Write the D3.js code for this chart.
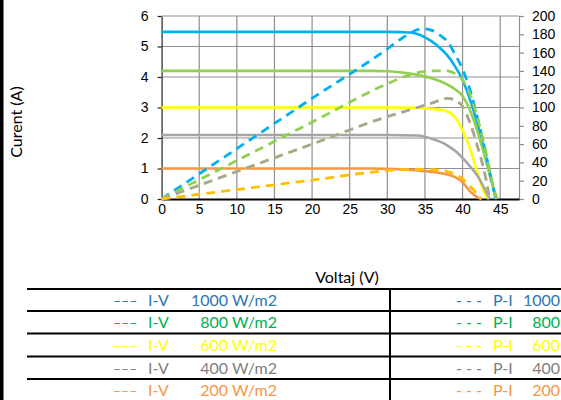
<!DOCTYPE html>
<html>
<head>
<meta charset="utf-8">
<script src="https://cdn.jsdelivr.net/npm/d3@7"></script>
<style>
  body { margin: 0; background: #fff; }
  svg { display: block; }
  .tick text { font-family: "Liberation Sans", Arial, sans-serif; font-size: 14px; fill: #000; }
  .lbl { font-family: Lato, sans-serif; }
</style>
</head>
<body>
<svg width="561" height="400"></svg>
<script>
// axis ticks
var voltTicks = [0, 5, 10, 15, 20, 25, 30, 35, 40, 45];
var currentTicks = [0, 1, 2, 3, 4, 5, 6];
var powerTicks = [0, 20, 40, 60, 80, 100, 120, 140, 160, 180, 200];

// I-V curves (voltage, current)
var vI1000 = [0, 10, 20, 30, 32, 33, 34, 35, 36, 37, 38, 39, 40, 41, 42, 43, 44, 44.4];
var i1000  = [5.48, 5.48, 5.48, 5.48, 5.47, 5.46, 5.41, 5.3, 5.15, 4.95, 4.7, 4.35, 3.9, 3.25, 2.45, 1.5, 0.45, 0];
var vI800 = [0, 10, 20, 28, 30, 32, 34, 36, 38, 39, 40, 41, 42, 43, 44, 44.6];
var i800  = [4.2, 4.2, 4.2, 4.2, 4.19, 4.15, 4.07, 3.95, 3.75, 3.6, 3.38, 2.9, 2.2, 1.35, 0.45, 0];
var vI600 = [0, 10, 20, 30, 33, 35, 37, 38, 39, 40, 41, 42, 43, 43.5];
var i600  = [3.0, 3.0, 3.0, 3.0, 2.99, 2.97, 2.93, 2.87, 2.68, 2.25, 1.65, 0.85, 0.15, 0];
var vI400 = [0, 10, 20, 30, 34, 35, 36, 37, 38, 39, 40, 41, 42, 43, 43.6];
var i400  = [2.1, 2.1, 2.1, 2.1, 2.08, 2.04, 1.97, 1.88, 1.75, 1.58, 1.35, 1.07, 0.75, 0.3, 0];
var vI200 = [0, 10, 20, 28, 30, 32, 34, 36, 38, 39, 40, 41, 42, 42.5];
var i200  = [1.0, 1.0, 1.0, 1.0, 0.99, 0.97, 0.94, 0.89, 0.8, 0.72, 0.55, 0.25, 0.05, 0];

// P-V curves (voltage, power)
var vP1000 = [0, 10, 20, 30, 32, 33, 34, 35, 36, 37, 38, 39, 40, 41, 42, 43, 44, 44.5];
var p1000  = [0, 55, 110, 164, 176, 181, 185, 186, 184, 179, 172, 158, 142, 119, 88, 53, 14, 0];
var vP800 = [0, 10, 20, 30, 32, 34, 36, 38, 39, 40, 41, 42, 43, 44, 44.5];
var p800  = [0, 42, 84, 126, 133, 138, 140, 140, 137, 130, 114, 88, 55, 16, 0];
var vP600 = [0, 10, 20, 30, 32, 34, 36, 38, 39, 40, 41, 42, 43, 43.6];
var p600  = [0, 30, 60, 90, 95, 100, 105, 110, 108, 101, 83, 57, 26, 0];
var vP400 = [0, 10, 20, 30, 32, 34, 36, 38, 39, 40, 41, 42, 43, 43.6];
var p400  = [0, 30, 60, 90, 95, 100, 105, 110, 108, 101, 83, 57, 26, 0];
var vP200 = [0, 10, 20, 30, 32, 34, 36, 38, 39, 40, 41, 42, 42.5];
var p200  = [0, 10.3, 20.6, 31, 32, 32.5, 32, 30, 27, 22, 14, 5, 0];

var levels = ["1000", "800", "600", "400", "200"];
var lineColors = ["#00b0f0", "#92d050", "#ffff00", "#a5a5a5", "#f79646"];
var powerColors = ["#00b0f0", "#92d050", "#ffff00", "#a5a5a5", "#ffc000"];
var textColors = ["#2e75b6", "#00b050", "#ffff00", "#808080", "#f79646"];

var svg = d3.select("svg");

var x = d3.scaleLinear().domain([0, 47.5]).range([161.6, 519]);
var yI = d3.scaleLinear().domain([0, 6]).range([199, 16]);
var yP = d3.scaleLinear().domain([0, 200]).range([199, 16]);

// black strip on the left edge
svg.append("rect").attr("x", 0).attr("y", 0).attr("width", 3.5).attr("height", 400).attr("fill", "#000");

// grid
var grid = svg.append("g").attr("stroke", "#8f8f8f").attr("stroke-width", 1.2);
grid.selectAll("line.h").data(currentTicks.slice(1)).enter().append("line")
   .attr("x1", x(0)).attr("x2", x.range()[1])
   .attr("y1", function(d){ return yI(d); }).attr("y2", function(d){ return yI(d); });
grid.selectAll("line.v").data(voltTicks.slice(1)).enter().append("line")
   .attr("x1", function(d){ return x(d); }).attr("x2", function(d){ return x(d); })
   .attr("y1", yI(0)).attr("y2", yI(6));

// right axis (power)
var rightAxis = svg.append("g")
   .attr("transform", "translate(" + x.range()[1] + ",0)")
   .call(d3.axisRight(yP).tickValues(powerTicks).tickSize(5).tickSizeOuter(0).tickPadding(8));
rightAxis.selectAll("path, line").attr("stroke", "#8f8f8f").attr("stroke-width", 1.2);

// left axis (current)
var leftAxis = svg.append("g")
   .attr("transform", "translate(" + x(0) + ",0)")
   .call(d3.axisLeft(yI).tickValues(currentTicks).tickFormat(d3.format("d"))
      .tickSize(4).tickSizeOuter(0).tickPadding(9));
leftAxis.selectAll("path, line").attr("stroke", "#222").attr("stroke-width", 1.2);

// bottom axis (voltage)
var bottomAxis = svg.append("g")
   .attr("transform", "translate(0," + yI(0) + ")")
   .call(d3.axisBottom(x).tickValues(voltTicks).tickSize(0).tickSizeOuter(0).tickPadding(5));
bottomAxis.select("path").attr("stroke", "#000").attr("stroke-width", 2.2);

// curves
var ivSeries = [[vI1000, i1000], [vI800, i800], [vI600, i600], [vI400, i400], [vI200, i200]];
var pvSeries = [[vP1000, p1000], [vP800, p800], [vP600, p600], [vP400, p400], [vP200, p200]];

function pairs(s) {
   return s[0].map(function(v, k){ return [v, s[1][k]]; });
}

var lineI = d3.line().x(function(d){ return x(d[0]); }).y(function(d){ return yI(d[1]); }).curve(d3.curveMonotoneX);
var lineP = d3.line().x(function(d){ return x(d[0]); }).y(function(d){ return yP(d[1]); }).curve(d3.curveMonotoneX);

svg.append("g").selectAll("path").data(ivSeries).enter().append("path")
   .attr("d", function(d){ return lineI(pairs(d)); })
   .attr("fill", "none")
   .attr("stroke", function(d, i){ return lineColors[i]; })
   .attr("stroke-width", 2.6)
   .attr("stroke-linejoin", "round");

svg.append("g").selectAll("path").data(pvSeries).enter().append("path")
   .attr("d", function(d){ return lineP(pairs(d)); })
   .attr("fill", "none")
   .attr("stroke", function(d, i){ return powerColors[i]; })
   .attr("stroke-width", 2.8)
   .attr("stroke-dasharray", "9,6");

// axis titles
svg.append("text").attr("class", "lbl")
   .attr("transform", "translate(22,122) rotate(-90)")
   .attr("text-anchor", "middle").attr("font-size", 16)
   .text("Curent (A)");

svg.append("text").attr("class", "lbl")
   .attr("x", 347).attr("y", 283)
   .attr("text-anchor", "middle").attr("font-size", 16)
   .text("Voltaj (V)");

// legend table
var rowLines = [289, 311, 333.5, 356.5, 379];
var table = svg.append("g");
table.selectAll("line.r").data(rowLines).enter().append("line")
   .attr("x1", 27).attr("x2", 561)
   .attr("y1", function(d){ return d; }).attr("y2", function(d){ return d; })
   .attr("stroke", "#000").attr("stroke-width", 2);
table.append("line").attr("x1", 390).attr("x2", 390).attr("y1", 288).attr("y2", 400)
   .attr("stroke", "#000").attr("stroke-width", 2);

var rows = table.selectAll("g.row").data(levels).enter().append("g")
   .attr("class", "lbl")
   .attr("font-size", 16)
   .attr("fill", function(d, i){ return textColors[i]; })
   .attr("transform", function(d, i){ return "translate(0," + (rowLines[i] + 17) + ")"; });

rows.append("text").attr("x", 113).attr("font-size", 14).text("\u2013\u2013\u2013");
rows.append("text").attr("x", 148).text("I-V");
rows.append("text").attr("x", 277).attr("text-anchor", "end").text(function(d){ return d + " W/m2"; });
rows.append("text").attr("x", 456).text("- - -");
rows.append("text").attr("x", 493).text("P-I");
rows.append("text").attr("x", 560).attr("text-anchor", "end").text(function(d){ return d; });
</script>
</body>
</html>
